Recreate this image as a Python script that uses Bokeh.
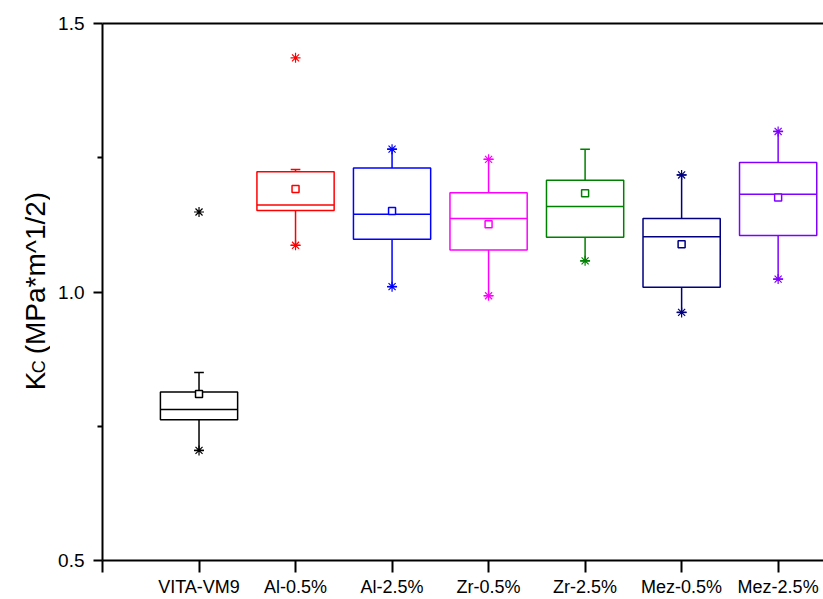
import math
from bokeh.plotting import figure
from bokeh.layouts import row
from bokeh.models import (FixedTicker, LinearAxis, Range1d,
                          ColumnDataSource, PrintfTickFormatter)
from bokeh.core.properties import value
from bokeh.embed import file_html
from bokeh.resources import INLINE

# ---------------- data ----------------
categories = ["VITA-VM9", "Al-0.5%", "Al-2.5%", "Zr-0.5%", "Zr-2.5%", "Mez-0.5%", "Mez-2.5%"]
colors = ["#000000", "#FF0000", "#0000FF", "#FF00FF", "#008000", "#000080", "#8000FF"]
q1 = [0.762, 1.152, 1.098, 1.078, 1.102, 1.009, 1.105]
median = [0.781, 1.162, 1.145, 1.137, 1.159, 1.103, 1.182]
q3 = [0.814, 1.224, 1.231, 1.185, 1.208, 1.137, 1.241]
mean = [0.810, 1.192, 1.151, 1.126, 1.184, 1.089, 1.176]
whisker_low = [0.705, 1.087, 1.010, 0.993, 1.058, 0.962, 1.024]
whisker_high = [0.850, 1.228, 1.266, 1.247, 1.266, 1.218, 1.299]
# min / max markers (asterisks): category index and value
star_group = [0, 0, 1, 1, 2, 2, 3, 3, 4, 5, 5, 6, 6]
star_value = [0.705, 1.149, 1.087, 1.436, 1.010, 1.266, 0.993, 1.247, 1.058,
              0.962, 1.218, 1.024, 1.299]
y_ticks = [0.5, 1.0, 1.5]
y_minor = [0.75, 1.25]
y_title_main = "K"
y_title_sub = "C"
y_title_rest = "(MPa*m^1/2)"

box_w = 0.8
cap_w = 0.1
xs = list(range(1, len(categories) + 1))

src = ColumnDataSource(dict(
    x=xs, left=[x - box_w / 2 for x in xs], right=[x + box_w / 2 for x in xs],
    q1=q1, q3=q3, med=median, mean=mean, wl=whisker_low, wh=whisker_high,
    cl=[x - cap_w / 2 for x in xs], cr=[x + cap_w / 2 for x in xs], color=colors,
))
star_src = ColumnDataSource(dict(
    x=[xs[g] for g in star_group], y=star_value, color=[colors[g] for g in star_group],
))

side_w = 50
p = figure(width=823 - side_w, height=599, output_backend="svg", toolbar_location=None,
           x_range=Range1d(0, 7.47), y_range=Range1d(0.5, 1.5),
           min_border_left=102 - side_w, min_border_right=0, min_border_top=23,
           min_border_bottom=37)
p.grid.visible = False
p.outline_line_color = None
p.background_fill_color = "white"
p.border_fill_color = "white"

lw = 1.5
p.segment(x0="x", y0="q3", x1="x", y1="wh", line_color="color", line_width=lw, source=src)
p.segment(x0="x", y0="q1", x1="x", y1="wl", line_color="color", line_width=lw, source=src)
p.segment(x0="cl", y0="wh", x1="cr", y1="wh", line_color="color", line_width=lw, source=src)
p.segment(x0="cl", y0="wl", x1="cr", y1="wl", line_color="color", line_width=lw, source=src)
p.quad(left="left", right="right", bottom="q1", top="q3", fill_color="white",
       line_color="color", line_width=lw, source=src)
p.segment(x0="left", y0="med", x1="right", y1="med", line_color="color",
          line_width=lw, source=src)
p.scatter(x="x", y="mean", marker="square", size=7, fill_color="white",
          line_color="color", line_width=1.5, source=src)
p.scatter(x="x", y="y", marker="asterisk", size=10, line_color="color",
          line_width=1.2, source=star_src)

font = "Liberation Sans"
xa = p.xaxis[0]
xa.ticker = FixedTicker(ticks=[0] + xs)
xa.major_label_overrides = {0: ""} | {x: c for x, c in zip(xs, categories)}
xa.axis_line_width = 2
xa.major_tick_line_width = 2
xa.major_tick_in = 0
xa.major_tick_out = 12
xa.minor_tick_line_color = None
xa.major_label_standoff = 4
xa.major_label_text_font = font
xa.major_label_text_font_size = "18px"
xa.major_label_text_color = "black"

ya = p.yaxis[0]
ya.ticker = FixedTicker(ticks=y_ticks, minor_ticks=y_minor)
ya.formatter = PrintfTickFormatter(format="%.1f")
ya.axis_line_width = 2
ya.major_tick_line_width = 2
ya.minor_tick_line_width = 2
ya.major_tick_in = 0
ya.major_tick_out = 9
ya.minor_tick_in = 0
ya.minor_tick_out = 5
ya.major_label_standoff = 9
ya.major_label_text_font = font
ya.major_label_text_font_size = "19px"
ya.major_label_text_color = "black"

top = LinearAxis(ticker=FixedTicker(ticks=[]), axis_line_width=2,
                 major_tick_line_color=None, minor_tick_line_color=None,
                 major_label_text_font_size="0px")
p.add_layout(top, "above")

# side panel holding the rotated y-axis title  K_C (MPa*m^1/2)
H = 599
side = figure(width=side_w, height=H, output_backend="svg", toolbar_location=None,
              x_range=Range1d(0, side_w), y_range=Range1d(0, H),
              min_border=0, x_axis_location=None, y_axis_location=None)
side.grid.visible = False
side.outline_line_color = None
side.background_fill_color = "white"
side.border_fill_color = "white"

ang = math.pi / 2
side.text(x=[35], y=[H - 409], text=[y_title_main], angle=ang,
          text_font=value(font), text_font_size=value("28px"),
          text_align="left", text_baseline="alphabetic", text_color="black")
side.text(x=[38], y=[H - 390], text=[y_title_sub], angle=ang,
          text_font=value(font), text_font_size=value("18px"),
          text_align="left", text_baseline="alphabetic", text_color="black")
side.text(x=[35], y=[H - 369], text=[y_title_rest], angle=ang,
          text_font=value(font), text_font_size=value("28px"),
          text_align="left", text_baseline="alphabetic", text_color="black")

layout = row(side, p, spacing=0)
open("out.html", "w").write(file_html(layout, INLINE))
